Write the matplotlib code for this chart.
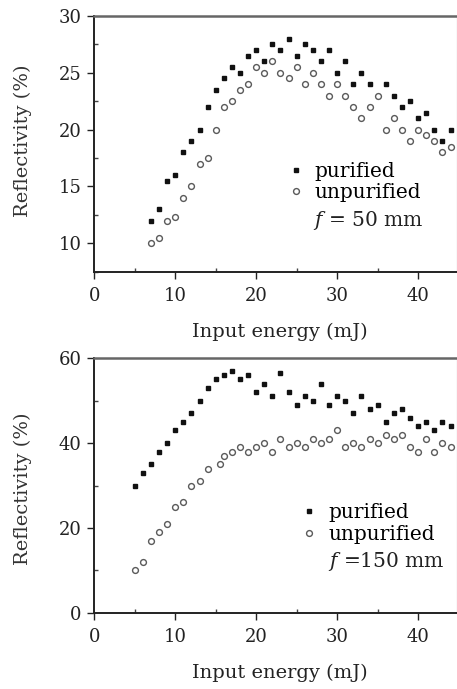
import matplotlib
matplotlib.use('Agg')
import matplotlib.pyplot as plt
from matplotlib.ticker import MultipleLocator

plt.rcParams['font.family'] = 'DejaVu Serif'
plt.rcParams['mathtext.fontset'] = 'dejavuserif'

# --- top panel: f = 50 mm ---
x_pur_50 = [7, 8, 9, 10, 11, 12, 13, 14, 15, 16, 17, 18, 19, 20, 21, 22, 23, 24, 25,
            26, 27, 28, 29, 30, 31, 32, 33, 34, 36, 37, 38, 39, 40, 41, 42, 43, 44]
y_pur_50 = [12, 13, 15.5, 16, 18, 19, 20, 22, 23.5, 24.5, 25.5, 25, 26.5, 27, 26, 27.5, 27, 28, 26.5,
            27.5, 27, 26, 27, 25, 26, 24, 25, 24, 24, 23, 22, 22.5, 21, 21.5, 20, 19, 20]
x_unp_50 = [7, 8, 9, 10, 11, 12, 13, 14, 15, 16, 17, 18, 19, 20, 21, 22, 23, 24, 25,
            26, 27, 28, 29, 30, 31, 32, 33, 34, 35, 36, 37, 38, 39, 40, 41, 42, 43, 44]
y_unp_50 = [10, 10.5, 12, 12.3, 14, 15, 17, 17.5, 20, 22, 22.5, 23.5, 24, 25.5, 25, 26, 25, 24.5, 25.5,
            24, 25, 24, 23, 24, 23, 22, 21, 22, 23, 20, 21, 20, 19, 20, 19.5, 19, 18, 18.5]

# --- bottom panel: f = 150 mm ---
x_pur_150 = list(range(5, 45))
y_pur_150 = [30, 33, 35, 38, 40, 43, 45, 47, 50, 53, 55, 56, 57, 55, 56, 52, 54, 51, 56.5,
             52, 49, 51, 50, 54, 49, 51, 50, 47, 51, 48, 49, 45, 47, 48, 46, 44, 45, 43, 45, 44]
x_unp_150 = [5, 6, 7, 8, 9, 10, 11, 12, 13, 14, 15.5, 16, 17, 18, 19, 20, 21, 22, 23, 24,
             25, 26, 27, 28, 29, 30, 31, 32, 33, 34, 35, 36, 37, 38, 39, 40, 41, 42, 43, 44]
y_unp_150 = [10, 12, 17, 19, 21, 25, 26, 30, 31, 34, 35, 37, 38, 39, 38, 39, 40, 38, 41, 39,
             40, 39, 41, 40, 41, 43, 39, 40, 39, 41, 40, 42, 41, 42, 39, 38, 41, 38, 40, 39]

xticks = [0, 10, 20, 30, 40]

fig = plt.figure(figsize=(4.57, 6.89), dpi=100)
fig.patch.set_facecolor('white')

ax1 = fig.add_axes([0.2063, 0.6057, 0.7937, 0.3711])
ax2 = fig.add_axes([0.2063, 0.1107, 0.7937, 0.3693])

fs = 13

def style(ax, ylim, ymajor, yminor, ylabels, ylab_y):
    ax.set_xlim(0, 44.8)
    ax.set_ylim(*ylim)
    ax.set_xticks(xticks)
    ax.xaxis.set_minor_locator(MultipleLocator(5))
    ax.yaxis.set_major_locator(MultipleLocator(ymajor))
    ax.yaxis.set_minor_locator(MultipleLocator(yminor))
    ax.set_yticks(ylabels)
    ax.tick_params(axis='both', which='major', direction='out', length=5, width=1,
                   labelsize=fs, colors='#222222')
    ax.tick_params(axis='x', which='major', pad=6)
    ax.tick_params(axis='y', which='major', pad=4)
    ax.tick_params(axis='both', which='minor', direction='in', length=3, width=1,
                   colors='#444444')
    for s in ['left', 'bottom']:
        ax.spines[s].set_linewidth(1.4)
        ax.spines[s].set_color('#222222')
    ax.spines['top'].set_linewidth(1.8)
    ax.spines['top'].set_color('#666666')
    ax.spines['right'].set_linewidth(1.0)
    ax.spines['right'].set_color('#dddddd')
    ax.set_xlabel('Input energy (mJ)', fontsize=fs + 1, color='#222222', va='center')
    ax.xaxis.set_label_coords(0.512, -0.236)
    ax.set_ylabel('Reflectivity (%)', fontsize=fs + 1, color='#333333', va='center')
    ax.yaxis.set_label_coords(-0.197, ylab_y)

def draw(ax, xp, yp, xu, yu):
    ax.plot(xp, yp, linestyle='none', marker='s', ms=3.2, color='#111111',
            mec='#111111', label='purified')
    ax.plot(xu, yu, linestyle='none', marker='o', ms=4.2, mfc='white',
            mec='#5a5a5a', mew=1.0, label='unpurified')

draw(ax1, x_pur_50, y_pur_50, x_unp_50, y_unp_50)
style(ax1, (7.5, 30), 5, 2.5, [10, 15, 20, 25, 30], 0.511)
ax1.legend(loc='upper left', bbox_to_anchor=(0.533, 0.43), frameon=False,
           fontsize=fs + 1.5, handlelength=0.8, handletextpad=0.55,
           borderpad=0, labelspacing=0.12, borderaxespad=0)
ax1.text(0.603, 0.20, r'$f$ = 50 mm', transform=ax1.transAxes, fontsize=fs + 1.5,
         color='#222222', va='center', ha='left')

draw(ax2, x_pur_150, y_pur_150, x_unp_150, y_unp_150)
style(ax2, (0, 60), 20, 10, [0, 20, 40, 60], 0.487)
ax2.legend(loc='upper left', bbox_to_anchor=(0.57, 0.43), frameon=False,
           fontsize=fs + 1.5, handlelength=0.8, handletextpad=0.55,
           borderpad=0, labelspacing=0.12, borderaxespad=0)
ax2.text(0.643, 0.20, r'$f$ =150 mm', transform=ax2.transAxes, fontsize=fs + 1.5,
         color='#222222', va='center', ha='left')

fig.savefig('out.png', dpi=100, facecolor='white')
